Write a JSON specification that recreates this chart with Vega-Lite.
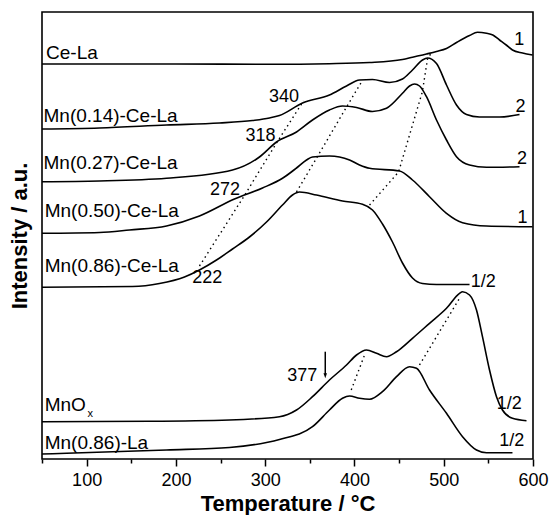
{
  "$schema": "https://vega.github.io/schema/vega-lite/v6.json",
  "width": 491,
  "height": 447,
  "autosize": {"type": "none"},
  "padding": {"left": 42, "top": 12, "right": 21, "bottom": 56},
  "background": "white",
  "config": {
    "view": {"stroke": "black", "strokeWidth": 1.6},
    "axis": {"labelFont": "Liberation Sans", "titleFont": "Liberation Sans"},
    "text": {"font": "Liberation Sans", "color": "black"}
  },
  "datasets": {
    "curves": [
      {"s": "Ce-La", "T": 50, "v": 395}, {"s": "Ce-La", "T": 200, "v": 395}, {"s": "Ce-La", "T": 304.8, "v": 394.7}, {"s": "Ce-La", "T": 372, "v": 395.3}, {"s": "Ce-La", "T": 416.9, "v": 396.5}, {"s": "Ce-La", "T": 453.8, "v": 399.5}, {"s": "Ce-La", "T": 465, "v": 401.8}, {"s": "Ce-La", "T": 480.7, "v": 405}, {"s": "Ce-La", "T": 491.9, "v": 407.5}, {"s": "Ce-La", "T": 503.1, "v": 410.5}, {"s": "Ce-La", "T": 514.3, "v": 416.5}, {"s": "Ce-La", "T": 528.9, "v": 423.5}, {"s": "Ce-La", "T": 537.8, "v": 426.7}, {"s": "Ce-La", "T": 547.9, "v": 425.7}, {"s": "Ce-La", "T": 555, "v": 424}, {"s": "Ce-La", "T": 562.5, "v": 419}, {"s": "Ce-La", "T": 570, "v": 414}, {"s": "Ce-La", "T": 577, "v": 409}, {"s": "Ce-La", "T": 588.3, "v": 406}, {"s": "Ce-La", "T": 599.5, "v": 404},

      {"s": "Mn14", "T": 50, "v": 330}, {"s": "Mn14", "T": 114.4, "v": 331}, {"s": "Mn14", "T": 189.5, "v": 334}, {"s": "Mn14", "T": 248.8, "v": 336}, {"s": "Mn14", "T": 285.8, "v": 338.5}, {"s": "Mn14", "T": 304.8, "v": 341}, {"s": "Mn14", "T": 316, "v": 343.5}, {"s": "Mn14", "T": 341.8, "v": 356}, {"s": "Mn14", "T": 372, "v": 364}, {"s": "Mn14", "T": 391.1, "v": 373}, {"s": "Mn14", "T": 405.7, "v": 379}, {"s": "Mn14", "T": 420.2, "v": 379.5}, {"s": "Mn14", "T": 439.3, "v": 376.5}, {"s": "Mn14", "T": 453.8, "v": 380}, {"s": "Mn14", "T": 465, "v": 389}, {"s": "Mn14", "T": 476.2, "v": 399}, {"s": "Mn14", "T": 481.8, "v": 401}, {"s": "Mn14", "T": 491.9, "v": 395.5}, {"s": "Mn14", "T": 503.1, "v": 374}, {"s": "Mn14", "T": 514.3, "v": 354}, {"s": "Mn14", "T": 525.5, "v": 344.5}, {"s": "Mn14", "T": 540, "v": 342}, {"s": "Mn14", "T": 562.5, "v": 342}, {"s": "Mn14", "T": 584.9, "v": 344.5},

      {"s": "Mn27", "T": 50, "v": 277.3}, {"s": "Mn27", "T": 114.4, "v": 278}, {"s": "Mn27", "T": 189.5, "v": 280.7}, {"s": "Mn27", "T": 263.4, "v": 289}, {"s": "Mn27", "T": 293.6, "v": 302}, {"s": "Mn27", "T": 312.7, "v": 317}, {"s": "Mn27", "T": 335.1, "v": 327}, {"s": "Mn27", "T": 353, "v": 339}, {"s": "Mn27", "T": 372, "v": 349}, {"s": "Mn27", "T": 386.6, "v": 353}, {"s": "Mn27", "T": 402.3, "v": 351.5}, {"s": "Mn27", "T": 420.2, "v": 347.5}, {"s": "Mn27", "T": 435.9, "v": 350.7}, {"s": "Mn27", "T": 453.8, "v": 365.7}, {"s": "Mn27", "T": 461.7, "v": 373}, {"s": "Mn27", "T": 467.3, "v": 375}, {"s": "Mn27", "T": 472.9, "v": 373}, {"s": "Mn27", "T": 480.7, "v": 362.3}, {"s": "Mn27", "T": 491.9, "v": 339}, {"s": "Mn27", "T": 503.1, "v": 319}, {"s": "Mn27", "T": 514.3, "v": 302.3}, {"s": "Mn27", "T": 528.9, "v": 294}, {"s": "Mn27", "T": 547.9, "v": 291.7}, {"s": "Mn27", "T": 584.9, "v": 292.3},

      {"s": "Mn50", "T": 50, "v": 225.7}, {"s": "Mn50", "T": 114.4, "v": 226.5}, {"s": "Mn50", "T": 148, "v": 229}, {"s": "Mn50", "T": 189.5, "v": 233}, {"s": "Mn50", "T": 226.4, "v": 243}, {"s": "Mn50", "T": 265.6, "v": 260}, {"s": "Mn50", "T": 297, "v": 271}, {"s": "Mn50", "T": 319.4, "v": 280.7}, {"s": "Mn50", "T": 335.1, "v": 291}, {"s": "Mn50", "T": 346.3, "v": 299}, {"s": "Mn50", "T": 353, "v": 302}, {"s": "Mn50", "T": 372, "v": 303}, {"s": "Mn50", "T": 394.5, "v": 299}, {"s": "Mn50", "T": 405.7, "v": 294}, {"s": "Mn50", "T": 416.9, "v": 290.7}, {"s": "Mn50", "T": 450.5, "v": 288}, {"s": "Mn50", "T": 465, "v": 279}, {"s": "Mn50", "T": 484.1, "v": 262.3}, {"s": "Mn50", "T": 503.1, "v": 245.7}, {"s": "Mn50", "T": 521.1, "v": 236.3}, {"s": "Mn50", "T": 547.9, "v": 233}, {"s": "Mn50", "T": 599.5, "v": 232.3},

      {"s": "Mn86", "T": 50, "v": 171.7}, {"s": "Mn86", "T": 151.4, "v": 172.5}, {"s": "Mn86", "T": 181.6, "v": 175.5}, {"s": "Mn86", "T": 209.6, "v": 182}, {"s": "Mn86", "T": 226.4, "v": 189}, {"s": "Mn86", "T": 245.5, "v": 199}, {"s": "Mn86", "T": 263.4, "v": 210}, {"s": "Mn86", "T": 282.4, "v": 222}, {"s": "Mn86", "T": 301.5, "v": 237}, {"s": "Mn86", "T": 319.4, "v": 254}, {"s": "Mn86", "T": 330.6, "v": 264}, {"s": "Mn86", "T": 338.5, "v": 267}, {"s": "Mn86", "T": 357.5, "v": 264}, {"s": "Mn86", "T": 386.6, "v": 258}, {"s": "Mn86", "T": 409, "v": 254.7}, {"s": "Mn86", "T": 420.2, "v": 249}, {"s": "Mn86", "T": 431.4, "v": 235}, {"s": "Mn86", "T": 442.6, "v": 217}, {"s": "Mn86", "T": 453.8, "v": 196}, {"s": "Mn86", "T": 465, "v": 181}, {"s": "Mn86", "T": 476.2, "v": 175.5}, {"s": "Mn86", "T": 491.9, "v": 174.5}, {"s": "Mn86", "T": 528.9, "v": 174.5},

      {"s": "MnOx", "T": 50, "v": 37.3}, {"s": "MnOx", "T": 170.4, "v": 37.7}, {"s": "MnOx", "T": 260, "v": 39}, {"s": "MnOx", "T": 316, "v": 42.3}, {"s": "MnOx", "T": 335.1, "v": 49}, {"s": "MnOx", "T": 353, "v": 62.3}, {"s": "MnOx", "T": 372, "v": 79}, {"s": "MnOx", "T": 391.1, "v": 94}, {"s": "MnOx", "T": 402.3, "v": 104}, {"s": "MnOx", "T": 413.5, "v": 109}, {"s": "MnOx", "T": 424.7, "v": 105.7}, {"s": "MnOx", "T": 435.9, "v": 102.3}, {"s": "MnOx", "T": 447.1, "v": 107.3}, {"s": "MnOx", "T": 465, "v": 120.7}, {"s": "MnOx", "T": 484.1, "v": 135.7}, {"s": "MnOx", "T": 503.1, "v": 150.7}, {"s": "MnOx", "T": 517.7, "v": 165.7}, {"s": "MnOx", "T": 521.1, "v": 167.3}, {"s": "MnOx", "T": 528.9, "v": 164}, {"s": "MnOx", "T": 536.7, "v": 149}, {"s": "MnOx", "T": 543.4, "v": 122.3}, {"s": "MnOx", "T": 551.3, "v": 89}, {"s": "MnOx", "T": 559.1, "v": 62.3}, {"s": "MnOx", "T": 565.8, "v": 49}, {"s": "MnOx", "T": 577, "v": 40.7}, {"s": "MnOx", "T": 592.7, "v": 38.3},

      {"s": "MnLa", "T": 50, "v": 5}, {"s": "MnLa", "T": 77.4, "v": 5.7}, {"s": "MnLa", "T": 189.5, "v": 9}, {"s": "MnLa", "T": 260, "v": 11.5}, {"s": "MnLa", "T": 301.5, "v": 16.5}, {"s": "MnLa", "T": 316, "v": 19.5}, {"s": "MnLa", "T": 353, "v": 32.3}, {"s": "MnLa", "T": 372, "v": 49}, {"s": "MnLa", "T": 386.6, "v": 60.7}, {"s": "MnLa", "T": 394.5, "v": 63}, {"s": "MnLa", "T": 405.7, "v": 60.7}, {"s": "MnLa", "T": 416.9, "v": 59.7}, {"s": "MnLa", "T": 431.4, "v": 67.3}, {"s": "MnLa", "T": 447.1, "v": 82.3}, {"s": "MnLa", "T": 461.7, "v": 92.3}, {"s": "MnLa", "T": 469.5, "v": 90.7}, {"s": "MnLa", "T": 484.1, "v": 69}, {"s": "MnLa", "T": 503.1, "v": 45.7}, {"s": "MnLa", "T": 521.1, "v": 22.3}, {"s": "MnLa", "T": 536.7, "v": 9}, {"s": "MnLa", "T": 547.9, "v": 6.3}, {"s": "MnLa", "T": 577, "v": 6.3}
    ],
    "dots": [
      {"g": "L1", "T": 226.4, "v": 193}, {"g": "L1", "T": 275.7, "v": 262}, {"g": "L1", "T": 312.7, "v": 316}, {"g": "L1", "T": 342.9, "v": 358},
      {"g": "L2", "T": 335.1, "v": 267}, {"g": "L2", "T": 360.9, "v": 306}, {"g": "L2", "T": 391.1, "v": 352}, {"g": "L2", "T": 407.9, "v": 377},
      {"g": "L3", "T": 416.9, "v": 254}, {"g": "L3", "T": 449.4, "v": 287}, {"g": "L3", "T": 476, "v": 367}, {"g": "L3", "T": 482, "v": 401}, {"g": "L3", "T": 486.3, "v": 406},
      {"g": "L4", "T": 396.4, "v": 69}, {"g": "L4", "T": 411.3, "v": 104},
      {"g": "L5", "T": 472.9, "v": 94}, {"g": "L5", "T": 517.7, "v": 160.7}
    ],
    "names": [
      {"t": "Ce-La", "T": 54.5, "v": 399.7},
      {"t": "Mn(0.14)-Ce-La", "T": 51.7, "v": 337.3},
      {"t": "Mn(0.27)-Ce-La", "T": 51.7, "v": 290},
      {"t": "Mn(0.50)-Ce-La", "T": 53, "v": 241.7},
      {"t": "Mn(0.86)-Ce-La", "T": 53, "v": 186.7},
      {"t": "MnO", "T": 53, "v": 48.3},
      {"t": "Mn(0.86)-La", "T": 53, "v": 10}
    ],
    "nums": [
      {"t": "1", "T": 578.9, "v": 414},
      {"t": "2", "T": 580.4, "v": 347.3},
      {"t": "2", "T": 582.2, "v": 295},
      {"t": "1", "T": 582.6, "v": 236.3},
      {"t": "1/2", "T": 530.3, "v": 172.3},
      {"t": "1/2", "T": 559.5, "v": 49.7},
      {"t": "1/2", "T": 562.2, "v": 13},
      {"t": "340", "T": 304.3, "v": 357.3},
      {"t": "318", "T": 278, "v": 318.3},
      {"t": "272", "T": 238.2, "v": 264},
      {"t": "222", "T": 218.3, "v": 175.7},
      {"t": "377", "T": 324.6, "v": 78}
    ],
    "subs": [{"t": "x", "T": 101, "v": 42.3}],
    "arrow": [{"T": 367.3, "v": 107.3, "v2": 84}],
    "head": [{"T": 367.3, "v": 80.7}]
  },
  "encoding": {
    "x": {"field": "T", "type": "quantitative",
      "scale": {"domain": [50, 600], "nice": false, "zero": false},
      "axis": {"title": "Temperature / °C", "values": [50, 100, 150, 200, 250, 300, 350, 400, 450, 500, 550, 600],
        "labelExpr": "datum.value % 100 === 0 ? datum.label : ''",
        "tickSize": {"condition": {"test": "datum.value % 100 !== 0", "value": 4}, "value": 7},
        "domain": false, "grid": false, "tickColor": "black", "tickWidth": 1.5,
        "labelFontSize": 18, "labelColor": "black", "labelPadding": 5, "labelOverlap": false, "labelFlush": false,
        "titleFontSize": 22, "titleFontWeight": "bold", "titleColor": "black", "titlePadding": 4}},
    "y": {"field": "v", "type": "quantitative",
      "scale": {"domain": [0, 447], "nice": false, "zero": false},
      "axis": {"title": "Intensity / a.u.", "ticks": false, "labels": false, "domain": false, "grid": false,
        "titleFontSize": 22, "titleFontWeight": "bold", "titleColor": "black", "titlePadding": 11}}
  },
  "layer": [
    {
      "data": {"name": "curves"},
      "mark": {"type": "line", "interpolate": "monotone", "color": "black", "strokeWidth": 1.6},
      "encoding": {"detail": {"field": "s", "type": "nominal"}}
    },
    {
      "data": {"name": "dots"},
      "mark": {"type": "line", "color": "black", "strokeWidth": 1.4, "strokeDash": [1.5, 3.5]},
      "encoding": {"detail": {"field": "g", "type": "nominal"}}
    },
    {
      "data": {"name": "names"},
      "mark": {"type": "text", "align": "left", "baseline": "alphabetic", "fontSize": 19},
      "encoding": {"text": {"field": "t"}}
    },
    {
      "data": {"name": "nums"},
      "mark": {"type": "text", "align": "left", "baseline": "alphabetic", "fontSize": 18},
      "encoding": {"text": {"field": "t"}}
    },
    {
      "data": {"name": "subs"},
      "mark": {"type": "text", "align": "left", "baseline": "alphabetic", "fontSize": 11},
      "encoding": {"text": {"field": "t"}}
    },
    {
      "data": {"name": "arrow"},
      "mark": {"type": "rule", "color": "black", "strokeWidth": 1.5},
      "encoding": {"y2": {"field": "v2"}}
    },
    {
      "data": {"name": "head"},
      "mark": {"type": "point", "shape": "M-0.35,-1L0.35,-1L0,0Z", "filled": true, "color": "black", "opacity": 1, "size": 100},
      "encoding": {}
    }
  ]
}
